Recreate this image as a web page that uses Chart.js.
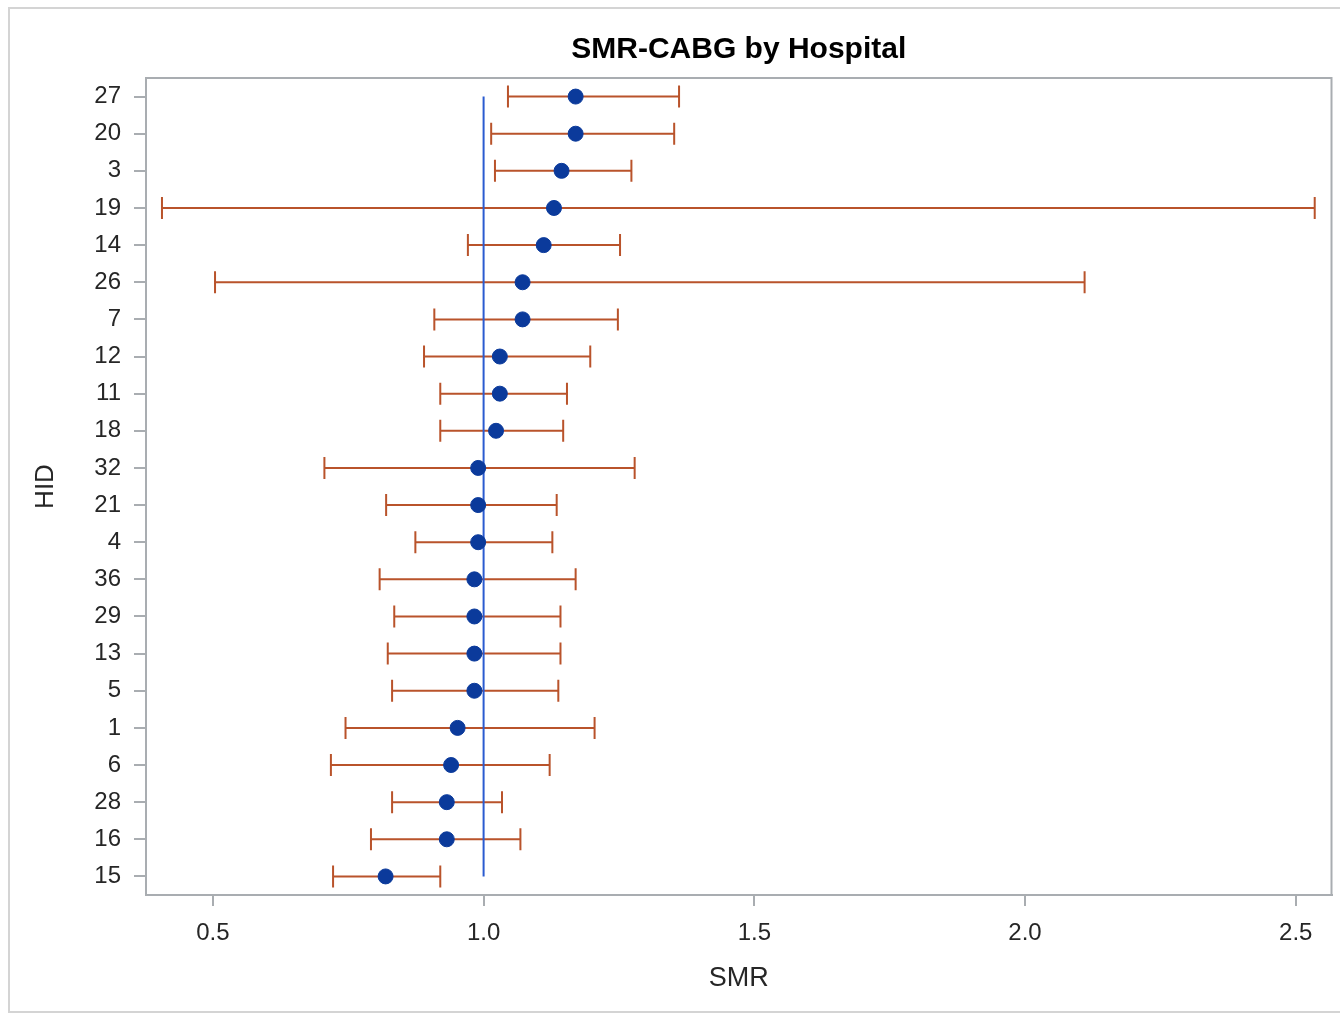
<!DOCTYPE html>
<html>
<head>
<meta charset="utf-8">
<title>SMR-CABG by Hospital</title>
<script src="https://cdn.jsdelivr.net/npm/chart.js@4.4.1/dist/chart.umd.min.js"></script>
<style>
    html, body { margin: 0; padding: 0; background: #fff; overflow: hidden; }
    #frame {
        position: absolute; left: 8px; top: 7px; width: 1340px; height: 1006px;
        border: 2px solid #d4d4d4; box-sizing: border-box;
    }
    #wrap { position: absolute; left: 0; top: 0; width: 1340px; height: 1015px; }
</style>
</head>
<body>
<div id="frame"></div>
<div id="wrap"><canvas id="smr-chart"></canvas></div>
<script>
// Hospital IDs, top to bottom
const hids = ['27', '20', '3', '19', '14', '26', '7', '12', '11', '18', '32',
              '21', '4', '36', '29', '13', '5', '1', '6', '28', '16', '15'];

// SMR point estimates
const smr = [1.170, 1.170, 1.144, 1.130, 1.111, 1.072, 1.072, 1.030, 1.030, 1.023, 0.990,
             0.990, 0.990, 0.983, 0.983, 0.983, 0.983, 0.952, 0.940, 0.932, 0.932, 0.819];

// confidence limits
const lower = [1.045, 1.014, 1.021, 0.406, 0.971, 0.504, 0.909, 0.890, 0.920, 0.920, 0.706,
               0.820, 0.874, 0.808, 0.835, 0.823, 0.831, 0.745, 0.718, 0.831, 0.792, 0.722];
const upper = [1.361, 1.352, 1.273, 2.535, 1.252, 2.110, 1.248, 1.197, 1.154, 1.147, 1.279,
               1.135, 1.127, 1.170, 1.142, 1.142, 1.138, 1.205, 1.122, 1.034, 1.068, 0.920];

const xTicks = [0.5, 1.0, 1.5, 2.0, 2.5];
const refValue = 1.0;

const FONT = "'Liberation Sans', Arial, sans-serif";
const ERR_COLOR = '#b9532b';
const AXIS_COLOR = '#a9adb1';
const TEXT_COLOR = '#262626';

/**
 * Error bars with caps, plus the box around the plot area
 */
const errorBarPlugin = {
    id: 'errorBars',
    beforeDatasetsDraw(chart) {
        const ctx = chart.ctx;
        const xs = chart.scales.x;
        const ys = chart.scales.y;
        const cap = 11;
        ctx.save();
        ctx.strokeStyle = ERR_COLOR;
        ctx.lineWidth = 2;
        hids.forEach((id, i) => {
            const y = ys.getPixelForValue(i);
            const x1 = xs.getPixelForValue(lower[i]);
            const x2 = xs.getPixelForValue(upper[i]);
            ctx.beginPath();
            ctx.moveTo(x1, y);
            ctx.lineTo(x2, y);
            ctx.moveTo(x1, y - cap);
            ctx.lineTo(x1, y + cap);
            ctx.moveTo(x2, y - cap);
            ctx.lineTo(x2, y + cap);
            ctx.stroke();
        });
        ctx.restore();
    },
    afterDraw(chart) {
        const a = chart.chartArea;
        const ctx = chart.ctx;
        ctx.save();
        ctx.strokeStyle = AXIS_COLOR;
        ctx.lineWidth = 2;
        ctx.strokeRect(a.left, a.top, a.right - a.left, a.bottom - a.top);
        ctx.restore();
    }
};

const ctx = document.getElementById('smr-chart').getContext('2d');

const smrChart = new Chart(ctx, {
    type: 'scatter',
    data: {
        datasets: [
            {
                label: 'SMR',
                data: hids.map((id, i) => ({ x: smr[i], y: id })),
                backgroundColor: '#0b3a9b',
                borderColor: '#0b3a9b',
                pointRadius: 7.5,
                order: 0
            },
            {
                label: 'Reference',
                type: 'line',
                data: [{ x: refValue, y: hids[0] }, { x: refValue, y: hids[hids.length - 1] }],
                borderColor: '#2a5bd0',
                borderWidth: 2,
                pointRadius: 0,
                fill: false,
                order: 1
            }
        ]
    },
    options: {
        responsive: true,
        maintainAspectRatio: false,
        animation: false,
        layout: {
            padding: { left: 28, right: 5, top: 17, bottom: 0 }
        },
        plugins: {
            legend: { display: false },
            tooltip: { enabled: false },
            title: {
                display: true,
                fullSize: false,   // centre over the plot area, not the canvas
                text: 'SMR-CABG by Hospital',
                color: '#000',
                font: { family: FONT, size: 30, weight: 'bold' },
                padding: { top: 15, bottom: 10 }
            }
        },
        scales: {
            x: {
                type: 'linear',
                min: 0.3765,
                max: 2.566,
                afterBuildTicks: function(scale) {
                    scale.ticks = xTicks.map(v => ({ value: v }));
                },
                afterFit: function(scale) {
                    scale.height = 120;
                    scale.paddingLeft = 0;
                    scale.paddingRight = 0;
                },
                grid: {
                    drawOnChartArea: false,
                    tickLength: 11,
                    color: AXIS_COLOR,
                    lineWidth: 2
                },
                border: { color: AXIS_COLOR, width: 2 },
                ticks: {
                    padding: 13,
                    color: TEXT_COLOR,
                    font: { family: FONT, size: 24 },
                    callback: function(value) {
                        return value.toFixed(1);
                    }
                },
                title: {
                    display: true,
                    text: 'SMR',
                    color: TEXT_COLOR,
                    font: { family: FONT, size: 27 },
                    padding: { top: 0, bottom: 20 }
                }
            },
            y: {
                type: 'category',
                labels: hids,
                offset: true,
                afterFit: function(scale) {
                    scale.width = 118;
                },
                grid: {
                    drawOnChartArea: false,
                    offset: false,
                    tickLength: 12,
                    color: AXIS_COLOR,
                    lineWidth: 2
                },
                border: { color: AXIS_COLOR, width: 2 },
                ticks: {
                    padding: 13,
                    color: TEXT_COLOR,
                    font: { family: FONT, size: 24 }
                },
                title: {
                    display: true,
                    text: 'HID',
                    color: TEXT_COLOR,
                    font: { family: FONT, size: 26 },
                    padding: { top: 2, bottom: 0 }
                }
            }
        }
    },
    plugins: [errorBarPlugin]
});
</script>
</body>
</html>
